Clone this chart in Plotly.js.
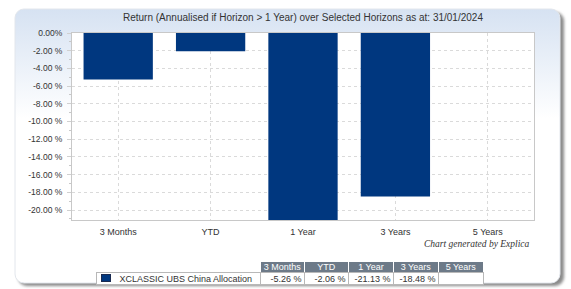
<!DOCTYPE html>
<html>
<head>
<meta charset="utf-8">
<script src="https://cdn.plot.ly/plotly-3.0.1.min.js"></script>
<style>html,body{margin:0;padding:0;background:#fff;}#chart{width:571px;height:289px;}</style>
</head>
<body>
<div id="chart"></div>
<script>
// ---- data ----
const categories = ['3 Months', 'YTD', '1 Year', '3 Years', '5 Years'];
const seriesName = 'XCLASSIC UBS China Allocation';
const returns = [-5.26, -2.06, -21.13, -18.48, null];
const yTickVals = [0, -2, -4, -6, -8, -10, -12, -14, -16, -18, -20];
const yTickText = ['0.00%', '-2.00 %', '-4.00 %', '-6.00 %', '-8.00 %', '-10.00 %', '-12.00 %', '-14.00 %', '-16.00 %', '-18.00 %', '-20.00 %'];
const chartTitle = 'Return (Annualised if Horizon > 1 Year) over Selected Horizons as at: 31/01/2024';
const credit = 'Chart generated by Explica';

// ---- layout helpers ----
const W = 571, H = 289;
const px = v => v / W;
const py = v => 1 - v / H;
const barColor = '#00377f';
const txt = '#333333';
const font = 'Liberation Sans, Arial, sans-serif';

// table geometry (pixels)
const colEdges = [96, 260, 304, 348, 393, 438, 483];
const headTop = 261, rowTop = 272, rowBottom = 284;

const panelSvg =
  `<svg xmlns='http://www.w3.org/2000/svg' width='${W}' height='${H}' viewBox='0 0 ${W} ${H}' preserveAspectRatio='none'>` +
  `<defs><linearGradient id='g' x1='0' y1='0' x2='0' y2='1'>` +
  `<stop offset='0' stop-color='#d6e2f2'/><stop offset='0.4' stop-color='#ffffff'/><stop offset='1' stop-color='#ffffff'/></linearGradient>` +
  `<filter id='s' x='-5%' y='-5%' width='110%' height='110%'><feGaussianBlur stdDeviation='1.5'/></filter></defs>` +
  `<rect x='18' y='12' width='546' height='274' rx='9' fill='#8a8a8a' filter='url(#s)'/>` +
  `<rect x='15' y='9' width='545' height='274' rx='9' fill='url(#g)' stroke='#e2e6ec' stroke-width='1'/>` +
  `</svg>`;

const bar = {
  type: 'bar',
  x: categories,
  y: returns,
  name: seriesName,
  marker: {color: barColor, line: {width: 0}},
  hoverinfo: 'x+y'
};

function cell(text, x0, x1, y0, y1, opts) {
  return Object.assign({
    text: text, xref: 'paper', yref: 'paper',
    x: px(x0), y: py(y0), xanchor: 'left', yanchor: 'top',
    width: x1 - x0 - 1, height: y1 - y0 - 1,
    borderwidth: 1, borderpad: 0, showarrow: false, valign: 'middle'
  }, opts);
}

const tableAnns = [];
// legend label cell
tableAnns.push(cell('\u00a0'.repeat(9) + seriesName, colEdges[0], colEdges[1], rowTop, rowBottom, {
  align: 'left', bgcolor: '#ffffff', bordercolor: '#b8b8b8',
  font: {family: font, size: 9, color: txt}
}));
// legend swatch
tableAnns.push(cell(' ', 101, 110, 274, 281, {
  bgcolor: barColor, bordercolor: '#1a2a50', font: {size: 4}
}));
categories.forEach((c, i) => {
  tableAnns.push(cell(c, colEdges[i + 1], colEdges[i + 2], headTop, rowTop, {
    align: 'center', bgcolor: '#6d7a88', bordercolor: '#ffffff',
    font: {family: font, size: 9, color: '#ffffff'}
  }));
  const v = returns[i];
  tableAnns.push(cell(v === null ? ' ' : v.toFixed(2) + ' % ', colEdges[i + 1], colEdges[i + 2], rowTop, rowBottom, {
    align: 'right', bgcolor: '#ffffff', bordercolor: '#b8b8b8',
    font: {family: font, size: 9, color: txt}
  }));
});

const layout = {
  width: W, height: H,
  margin: {l: 0, r: 0, t: 0, b: 0, pad: 0},
  paper_bgcolor: '#ffffff',
  plot_bgcolor: '#ffffff',
  showlegend: false,
  bargap: 0.25,
  font: {family: font, size: 8.5, color: txt},
  xaxis: {
    domain: [px(72), px(534)],
    type: 'category',
    showgrid: true, gridcolor: '#dadada', griddash: 'dot', gridwidth: 1,
    showline: true, linecolor: '#c8c8c8', linewidth: 1, mirror: true,
    ticks: '', ticklabelstandoff: 3,
    tickfont: {family: font, size: 9, color: txt},
    fixedrange: true
  },
  yaxis: {
    domain: [py(220), py(33)],
    range: [-21.13, 0],
    tickvals: yTickVals, ticktext: yTickText,
    showgrid: true, gridcolor: '#dadada', griddash: 'dot', gridwidth: 1,
    zeroline: false,
    showline: true, linecolor: '#c8c8c8', linewidth: 1, mirror: true,
    ticks: 'outside', ticklen: 4, tickcolor: '#d0d0d0', ticklabelstandoff: 3,
    minor: {dtick: 1, ticks: 'outside', ticklen: 2, tickcolor: '#c8c8c8', showgrid: false},
    tickfont: {family: font, size: 8.5, color: txt},
    fixedrange: true
  },
  images: [{
    source: 'data:image/svg+xml;charset=utf-8,' + encodeURIComponent(panelSvg),
    xref: 'paper', yref: 'paper', x: 0, y: 1, sizex: 1, sizey: 1,
    xanchor: 'left', yanchor: 'top', sizing: 'stretch', layer: 'below'
  }],
  shapes: [
    {type: 'rect', xref: 'x domain', yref: 'y domain', x0: 0, x1: 1, y0: 0, y1: 1,
     fillcolor: '#ffffff', line: {width: 0}, layer: 'below'}
  ],
  annotations: [
    {text: chartTitle, xref: 'paper', yref: 'paper', x: px(303), y: py(17),
     xanchor: 'center', yanchor: 'middle', showarrow: false,
     font: {family: font, size: 10, color: txt}},
    {text: '<i>' + credit + '</i>', xref: 'paper', yref: 'paper', x: px(532), y: py(244),
     xanchor: 'right', yanchor: 'middle', showarrow: false,
     font: {family: 'Liberation Serif, Times New Roman, serif', size: 9.5, color: txt}}
  ].concat(tableAnns)
};

Plotly.newPlot('chart', [bar], layout, {displayModeBar: false, staticPlot: true});
</script>
</body>
</html>
